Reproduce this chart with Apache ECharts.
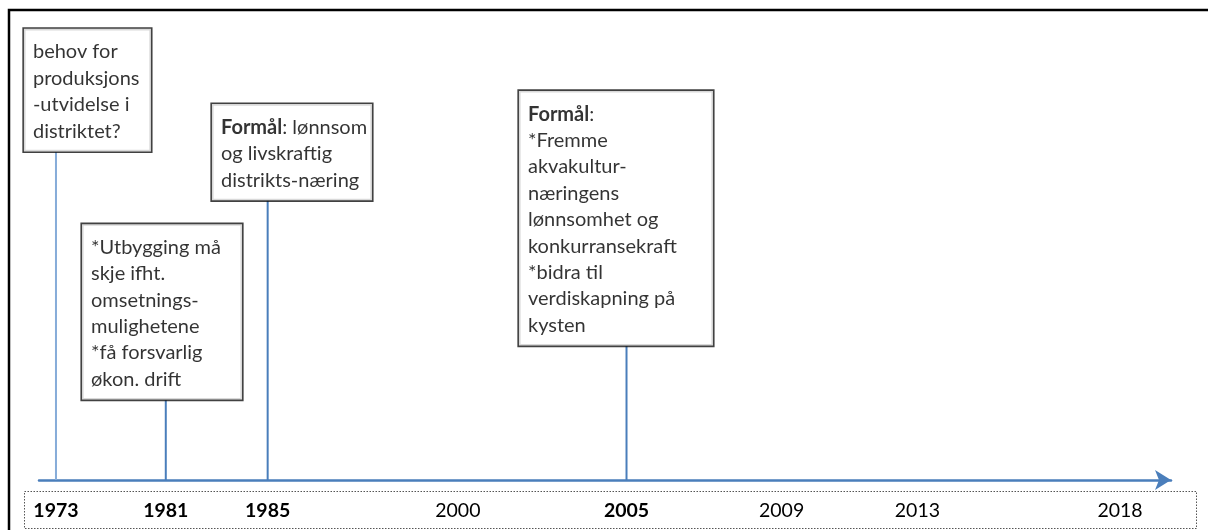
<!DOCTYPE html>
<html>
<head>
<meta charset="utf-8">
<script src="https://cdn.jsdelivr.net/npm/echarts@6/dist/echarts.min.js"></script>
<style>
    html, body { margin: 0; padding: 0; background: #fff; }
    #chart { width: 1208px; height: 530px; }
</style>
</head>
<body>
<div id="chart"></div>
<script>
// tidslinje: posisjon langs pila (0-100) for hvert årstall
const years = [ '1973', '1981', '1985', '2000', '2005', '2009', '2013', '2018' ];
const yearPos = [ 1.5, 11.2, 20.2, 37.0, 51.9, 65.6, 77.6, 95.5 ];
const boldYears = [ '1973', '1981', '1985', '2005' ];

// hendelser: årstall, høyde på stolpe (= underkant av boksen), boksens venstre kant
const eventYears = [ '1973', '1981', '1985', '2005' ];
const eventHeight = [ 69.8, 17.0, 59.4, 28.5 ];
const noteLeft = [ -1.33, 3.8, 15.28, 42.4 ];
const noteWidth = [ 112, 145, 145, 179 ];
const noteText = [
    'behov for\nproduksjons\n-utvidelse i\ndistriktet?',
    '*Utbygging må\nskje ifht.\nomsetnings-\nmulighetene\n*få forsvarlig\nøkon. drift',
    '{b|Formål}: lønnsom\nog livskraftig\ndistrikts-næring',
    '{b|Formål}:\n*Fremme\nakvakultur-\nnæringens\nlønnsomhet og\nkonkurransekraft\n*bidra til\nverdiskapning på\nkysten'
];

const FONT = 'Lato, "Open Sans", sans-serif';
const BLUE = '#4a7ebb';

const posOf = y => yearPos[ years.indexOf( y ) ];

const stemData = eventYears.map( ( y, i ) => ( {
    value: [ posOf( y ), eventHeight[ i ] ],
    itemStyle: { color: i === 0 ? '#86acd9' : BLUE }
} ) );

const noteData = eventYears.map( ( y, i ) => ( {
    value: [ noteLeft[ i ], eventHeight[ i ] ],
    label: { width: noteWidth[ i ], formatter: noteText[ i ] }
} ) );

const chart = echarts.init( document.getElementById( 'chart' ) );

const option = {
    animation: false,
    backgroundColor: '#fff',
    grid: {
        left: 39,
        right: 37,
        top: 10,
        bottom: 50
    },
    xAxis: {
        type: 'value',
        min: 0,
        max: 100,
        splitLine: { show: false },
        axisTick: { show: false },
        axisLine: {
            show: true,
            onZero: false,
            symbol: [ 'none', 'arrow' ],
            symbolSize: [ 15, 16 ],
            lineStyle: { color: BLUE, width: 2.5 }
        },
        axisLabel: {
            customValues: yearPos,
            margin: 21,
            color: '#000',
            fontFamily: FONT,
            fontSize: 19.5,
            formatter: v => {
                const y = years[ yearPos.indexOf( v ) ];
                return boldYears.indexOf( y ) > -1 ? '{b|' + y + '}' : y;
            },
            rich: {
                b: { fontWeight: 'bold', fontFamily: FONT, fontSize: 19.5, color: '#000' }
            }
        }
    },
    yAxis: {
        type: 'value',
        min: 0,
        max: 100,
        show: false,
        splitLine: { show: false }
    },
    series: [
        {
            type: 'bar',
            barWidth: 2,
            data: stemData,
            z: 2
        },
        {
            type: 'scatter',
            clip: false,
            symbolSize: 1,
            itemStyle: { color: 'rgba(0,0,0,0)' },
            data: noteData,
            z: 5,
            label: {
                show: true,
                position: 'top',
                distance: 0,
                align: 'left',
                color: '#000',
                fontFamily: FONT,
                fontSize: 20,
                lineHeight: 26.4,
                backgroundColor: '#fff',
                borderColor: '#111',
                borderWidth: 1.6,
                padding: [ 10, 6, 7, 9 ],
                overflow: 'none',
                rich: {
                    b: { fontWeight: 'bold', fontFamily: FONT, fontSize: 20, lineHeight: 26.4, color: '#000' }
                }
            }
        }
    ],
    graphic: [
        {
            type: 'rect',
            shape: { x: 9, y: 10, width: 1260, height: 600 },
            style: { fill: 'none', stroke: '#000', lineWidth: 2.5 }
        },
        {
            type: 'rect',
            shape: { x: 24.5, y: 491.5, width: 1172, height: 37 },
            style: { fill: 'none', stroke: '#555', lineWidth: 1, lineDash: [ 1.5, 1.5 ] }
        }
    ]
};

chart.setOption( option );
</script>
</body>
</html>
